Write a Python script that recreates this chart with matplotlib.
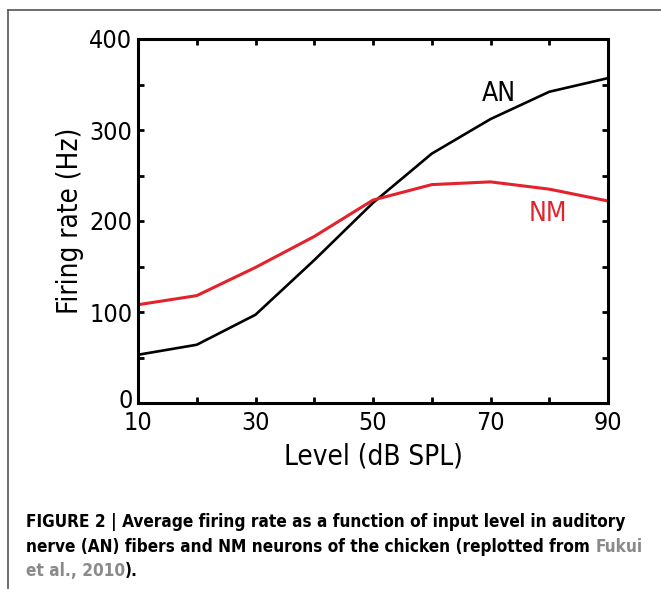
import matplotlib
matplotlib.use("Agg")
import matplotlib.pyplot as plt
from matplotlib.lines import Line2D
import matplotlib.transforms as mtrans

levels = [10, 20, 30, 40, 50, 60, 70, 80, 90]
an_rate = [53, 64, 97, 157, 220, 274, 312, 342, 357]
nm_rate = [108, 118, 149, 183, 223, 240, 243, 235, 222]
x_ticks = [10, 30, 50, 70, 90]
x_ticklabels = ["10", "30", "50", "70", "90"]
y_ticks = [0, 100, 200, 300, 400]

FONT = ["DejaVu Sans"]
ST = "condensed"

fig = plt.figure(figsize=(6.61, 5.89), dpi=100)
W, H = 661, 589
ax = fig.add_axes([138 / W, 1 - 403 / H, (608 - 138) / W, (403 - 39) / H])

ax.plot(levels, an_rate, color="black", lw=1.9)
ax.plot(levels, nm_rate, color="#e3222b", lw=2.2)

ax.set_xlim(10, 90)
ax.set_ylim(0, 400)
ax.set_xticks(x_ticks)
ax.set_xticklabels(x_ticklabels)
ax.set_xticks(levels, minor=True)
ax.set_yticks(y_ticks)
ax.set_yticks(list(range(0, 401, 50)), minor=True)
for s in ax.spines.values():
    s.set_linewidth(2.2)
ax.tick_params(which="both", direction="in", top=True, right=True,
               length=4, width=2)
ax.tick_params(axis="x", which="major", pad=6)
ax.tick_params(axis="y", which="major", pad=4)
for lab in ax.get_xticklabels() + ax.get_yticklabels():
    lab.set_family(FONT)
    lab.set_fontstretch(ST)
    lab.set_fontsize(18)
ylabs = ax.get_yticklabels()
for lab in ylabs:
    lab.set_verticalalignment("center_baseline")
# raise the "0" label slightly, as in the reference
ylabs[0].set_transform(ylabs[0].get_transform() +
                       mtrans.ScaledTranslation(0, 4 / 100, fig.dpi_scale_trans))

ax.set_xlabel("Level (dB SPL)", family=FONT, fontstretch=ST, fontsize=20,
              labelpad=5)
ax.set_ylabel("Firing rate (Hz)", family=FONT, fontstretch=ST, fontsize=20,
              labelpad=4)

ax.text(71.5, 340, "AN", family=FONT, fontstretch=ST, fontsize=19,
        color="black", ha="center", va="center")
ax.text(79.8, 208, "NM", family=FONT, fontstretch=ST, fontsize=19,
        color="#e3222b", ha="center", va="center")

# figure frame (top and left gray lines)
fig.add_artist(Line2D([8 / W, 1.0], [1 - 10 / H, 1 - 10 / H],
                      transform=fig.transFigure, color="#555555", lw=1.2))
fig.add_artist(Line2D([8 / W, 8 / W], [1 - 10 / H, 0.0],
                      transform=fig.transFigure, color="#555555", lw=1.2))

cap_kw = dict(family=FONT, fontstretch=ST, fontsize=12.35, fontweight="bold",
              va="baseline", transform=fig.transFigure)
fig.text(26 / W, 1 - 527 / H,
         "FIGURE 2 | Average firing rate as a function of input level in auditory",
         **cap_kw)
t2 = fig.text(26 / W, 1 - 552 / H,
              "nerve (AN) fibers and NM neurons of the chicken (replotted from ",
              **cap_kw)
fig.canvas.draw()
bb = t2.get_window_extent()
fig.text(bb.x1 / W, 1 - 552 / H, "Fukui", color="#8a8a8a", **cap_kw)
t3 = fig.text(26 / W, 1 - 576 / H, "et al., 2010", color="#8a8a8a", **cap_kw)
fig.canvas.draw()
bb3 = t3.get_window_extent()
fig.text(bb3.x1 / W, 1 - 576 / H, ").", **cap_kw)

fig.savefig("out.png", dpi=100)
